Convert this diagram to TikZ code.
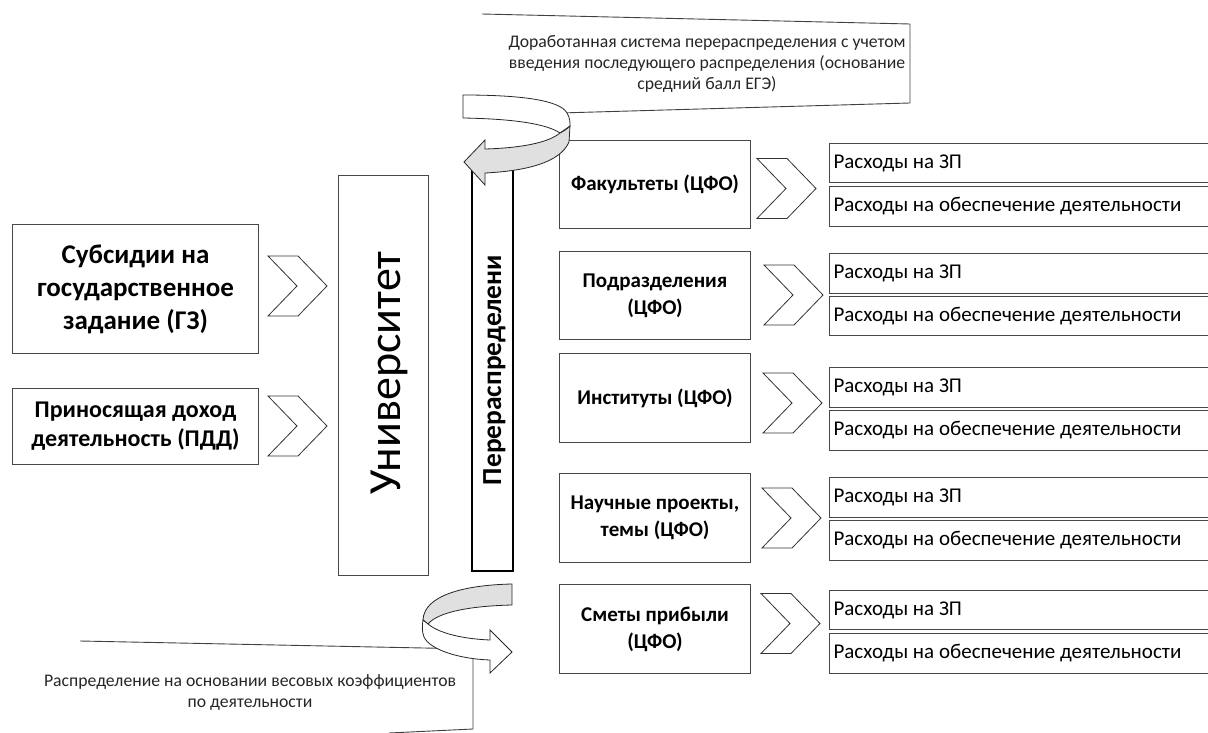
\documentclass[tikz,border=0pt]{standalone}
\usepackage{fontspec}
\setmainfont{Carlito}
\begin{document}
\begin{tikzpicture}[x=1pt,y=-1pt,
  box/.style={draw=black!72, line width=1pt, align=center, inner sep=0pt, anchor=north west},
  bigbox/.style={box, font=\bfseries\fontsize{27}{33}\selectfont},
  midbox/.style={box, minimum width=191pt, font=\bfseries\fontsize{21}{27}\selectfont},
  cost/.style={draw=black!72, line width=1pt, anchor=north west, align=flush left, text width=382pt, inner xsep=4pt, inner ysep=0pt, font=\fontsize{21}{25}\selectfont},
  note/.style={align=center, font=\fontsize{17.7}{21}\selectfont, text=black!85},
  chev/.pic={\draw[black!80, line width=0.8pt, fill=white] (-29.5,-30) -- (0.5,-30) -- (29.5,0) -- (0.5,30) -- (-29.5,30) -- (-0.5,0) -- cycle;},
  band/.style={draw=black!85, line width=0.8pt}
]
\useasboundingbox (0,0) rectangle (1208,733);
\clip (0,0) rectangle (1208,733);

% perspective text boxes (behind the curved arrows)
\coordinate (tbA) at (482,14);
\coordinate (tbB) at (910,24);
\coordinate (tbC) at (910,103);
\coordinate (tbD) at (560,113);
\draw[black!75, line width=0.9pt] (tbA) -- (tbB) -- (tbC) -- (tbD);
\node[note] (topnote) at (707,64) {Доработанная система перераспределения с учетом\\введения последующего распределения (основание\\средний балл ЕГЭ)};

\coordinate (bbA) at (80,641);
\coordinate (bbB) at (473,649);
\coordinate (bbC) at (473,729);
\coordinate (bbD) at (389,733);
\draw[black!75, line width=0.9pt] (bbA) -- (bbB) -- (bbC) -- (bbD);
\node[note] (botnote) at (250,692) {Распределение на основании весовых коэффициентов\\по деятельности};

% left boxes
\node[bigbox, minimum width=246pt, minimum height=129pt] (gz) at (12,224) {Субсидии на\\государственное\\задание (ГЗ)};
\node[box, minimum width=246pt, minimum height=76pt, font=\bfseries\fontsize{24}{29}\selectfont] (pdd) at (12,388) {Приносящая доход\\деятельность (ПДД)};
\pic at (297.5,286) {chev};
\pic at (297.5,426) {chev};

% university
\node[box, minimum width=90pt, minimum height=400pt] (univ) at (338,175) {};
\node[rotate=90, anchor=base, font=\fontsize{46}{46}\selectfont] (univt) at (400,373) {Университет};

% redistribution
\node[draw=black, line width=2pt, minimum width=41pt, minimum height=402pt, anchor=north west, inner sep=0pt] (redis) at (471,168) {};
\node[rotate=90, anchor=base, font=\bfseries\fontsize{27.5}{27.5}\selectfont] (redist) at (501,370) {Перераспределени};

% middle boxes
\node[midbox, minimum height=88pt] (m1) at (559,140) {Факультеты (ЦФО)};
\node[midbox, minimum height=88pt] (m2) at (559,251) {Подразделения\\(ЦФО)};
\node[midbox, minimum height=89pt] (m3) at (559,353) {Институты (ЦФО)};
\node[midbox, minimum height=89pt] (m4) at (559,473) {Научные проекты,\\темы (ЦФО)};
\node[midbox, minimum height=89pt] (m5) at (559,584) {Сметы прибыли\\(ЦФО)};

\pic at (786.5,188.5) {chev};
\pic at (793.5,295) {chev};
\pic at (792.5,403) {chev};
\pic at (791.5,518) {chev};
\pic at (790.5,623.5) {chev};

% cost boxes
\node[cost, minimum height=39pt] (z1) at (829,143) {Расходы на ЗП};
\node[cost, minimum height=40pt] (o1) at (829,186) {Расходы на обеспечение деятельности};
\node[cost, minimum height=40pt] (z2) at (829,253) {Расходы на ЗП};
\node[cost, minimum height=39pt] (o2) at (829,296) {Расходы на обеспечение деятельности};
\node[cost, minimum height=40pt] (z3) at (829,367) {Расходы на ЗП};
\node[cost, minimum height=40pt] (o3) at (829,410) {Расходы на обеспечение деятельности};
\node[cost, minimum height=40pt] (z4) at (829,477) {Расходы на ЗП};
\node[cost, minimum height=40pt] (o4) at (829,520) {Расходы на обеспечение деятельности};
\node[cost, minimum height=39pt] (z5) at (829,590) {Расходы на ЗП};
\node[cost, minimum height=40pt] (o5) at (829,633) {Расходы на обеспечение деятельности};

% top curved arrow (back band white, front band grey)
\filldraw[band, fill=white] (463,95) .. controls (520,95) and (560,100) .. (567,113) .. controls (570,118) and (570,122) .. (570,126)
  -- (560,133) .. controls (548,125) and (520,119) .. (463,118) -- cycle;
\filldraw[band, fill=black!12] (560,133) .. controls (548,143) and (520,148) .. (485,149) -- (485,140) -- (464,162) -- (485,185) -- (485,173)
  .. controls (525,171) and (560,163) .. (569,142) -- (570,126) .. controls (567,129) and (564,131) .. (560,133) -- cycle;

% bottom curved arrow (back band grey, front band white)
\filldraw[band, fill=black!12] (512,584) .. controls (465,585) and (424,595) .. (423,620) -- (428,624) .. controls (438,612) and (470,606) .. (512,605) -- cycle;
\filldraw[band, fill=white] (428,624) .. controls (440,634) and (465,639) .. (490,640) -- (490,630) -- (512,652) -- (490,673) -- (490,660)
  .. controls (460,659) and (430,650) .. (424,637) .. controls (422,632) and (422,626) .. (423,620) -- cycle;
\end{tikzpicture}
\end{document}
